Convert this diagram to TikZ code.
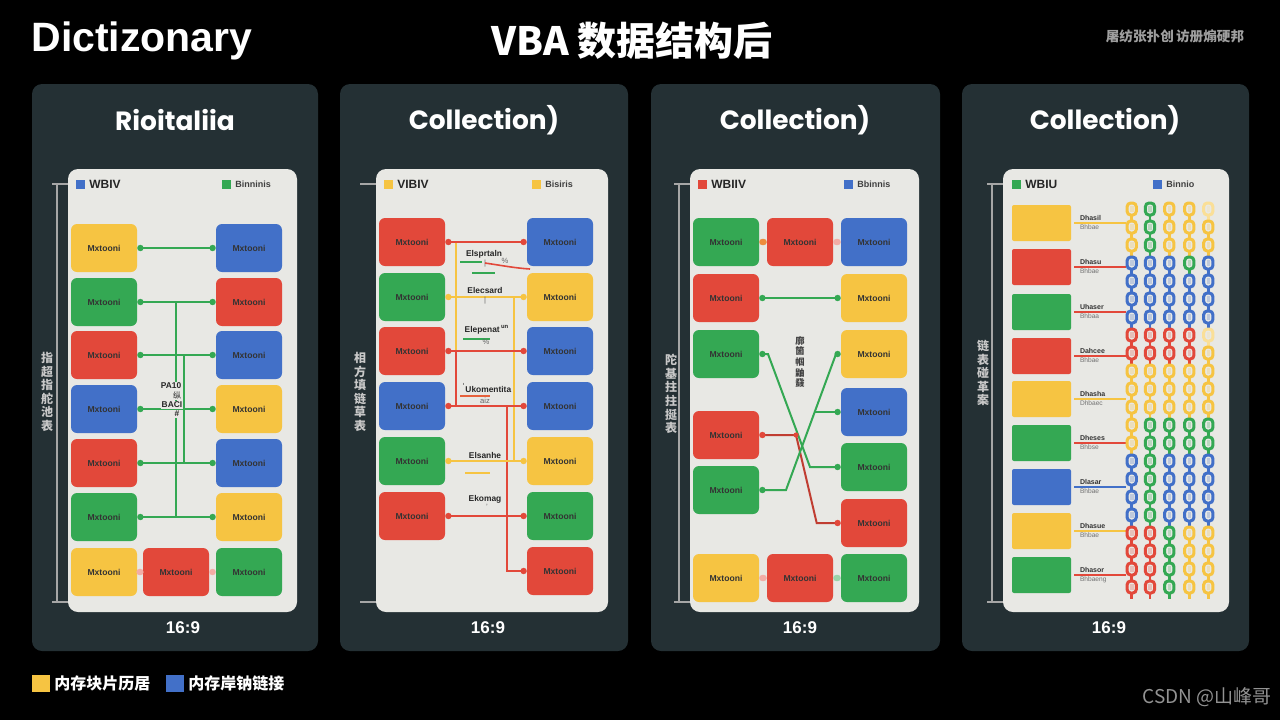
\documentclass[tikz,border=0pt]{standalone}
\usepackage{fontspec}
\setmainfont{Liberation Sans}
\newfontfamily\cjk{Noto Sans CJK SC}
\newfontfamily\ttl{Poppins}
\definecolor{cY}{RGB}{246,196,66}
\definecolor{cG}{RGB}{52,168,83}
\definecolor{cR}{RGB}{226,72,58}
\definecolor{cB}{RGB}{66,112,200}
\colorlet{cYf}{cY!55!white}
\definecolor{panelc}{RGB}{36,48,52}
\definecolor{cardc}{RGB}{232,232,228}
\definecolor{sidec}{RGB}{200,200,200}
\newcommand\cn[3]{%
  \draw[#1,line width=1pt] ([xshift=1.5pt]#2.east) -- ([xshift=-1.5pt]#3.west);
  \fill[#1] ([xshift=1.5pt]#2.east) circle (1.6pt) ([xshift=-1.5pt]#3.west) circle (1.6pt);}
\newcommand\chaincol[2]{%
  \foreach \c [count=\i from 0] in {#2} {%
    \pgfmathsetmacro\yy{209+18*\i}
    \draw[\c, line width=1.4pt] (#1,\yy+6) -- (#1,\yy+12);
    \draw[\c, line width=1.5pt, fill=cardc, rounded corners=1.8pt] (#1-4.6,\yy-6) rectangle (#1+4.6,\yy+6);
    \fill[\c, opacity=0.25] (#1-1.8,\yy-2.6) rectangle (#1+1.8,\yy+2.6);
  }}
\tikzset{
  bx/.style={rounded corners=3pt, minimum width=33pt, minimum height=24pt, inner sep=0pt,
    font=\fontsize{4.3}{5}\selectfont\bfseries, text=black!80},
  sq/.style={minimum width=29.5pt, minimum height=18pt, inner sep=0pt, rounded corners=1pt},
  ptitle/.style={font=\ttl\bfseries\fontsize{13.2}{15}\selectfont, text=white},
  ratio/.style={font=\bfseries\fontsize{8.5}{10}\selectfont, text=white},
  side/.style={font=\cjk\bfseries\fontsize{6}{6.8}\selectfont, text=sidec, align=center, inner sep=0pt},
  legbig/.style={font=\bfseries\fontsize{6}{7}\selectfont, text=black!85, anchor=west, inner sep=0pt},
  legsm/.style={font=\bfseries\fontsize{4.5}{5}\selectfont, text=black!75, anchor=west, inner sep=0pt},
  lbl/.style={font=\bfseries\fontsize{4.2}{5}\selectfont, text=black!85, inner sep=0.5pt},
  lbl2/.style={font=\fontsize{3.8}{4.5}\selectfont, text=black!60, inner sep=0.3pt},
  lblc/.style={font=\bfseries\fontsize{3.5}{4}\selectfont, text=black!80, inner sep=0.3pt, anchor=west},
  lblc2/.style={font=\fontsize{3.3}{4}\selectfont, text=black!55, inner sep=0.3pt, anchor=west},
  brk/.style={draw=gray!70, line width=0.7pt},
}
\begin{document}
\begin{tikzpicture}[x=0.5pt,y=-0.5pt]
\useasboundingbox (0,0) rectangle (1280,720);
\fill[black] (0,0) rectangle (1280,720);

% ---- header
\node[font=\bfseries\fontsize{20.5}{24}\selectfont, text=white, anchor=west, inner sep=0pt] (hdr) at (31,41) {Dictizonary};
\node[font=\cjk\bfseries\fontsize{19.5}{24}\selectfont, text=white, inner sep=0pt] (main) at (632,41) {VBA 数据结构后};
\node[font=\cjk\bfseries\fontsize{6.8}{8}\selectfont, text=gray!75, inner sep=0pt] (tr) at (1175,36) {屠纺张扑创\,访册煽硬邦};

% ---- panels and cards
\foreach \a/\b/\c/\d in {32/318/68/297, 340/628/376/608, 651/940/690/919, 962/1249/1003/1229}{
  \fill[panelc, rounded corners=5pt] (\a,84) rectangle (\b,651);
  \fill[cardc, rounded corners=5pt] (\c,169) rectangle (\d,612);
}
\node[ptitle] (t1) at (175,120) {Rioitaliia};
\node[ptitle] (t2) at (484,120) {Collection)};
\node[ptitle] (t3) at (795,120) {Collection)};
\node[ptitle] (t4) at (1105,120) {Collection)};
\node[ratio] (r1) at (183,628) {16:9};
\node[ratio] (r2) at (488,628) {16:9};
\node[ratio] (r3) at (800,628) {16:9};
\node[ratio] (r4) at (1109,628) {16:9};

% ---- side brackets
\draw[brk] (52,184) -- (68,184) (52,602) -- (68,602) (57,184) -- (57,602);
\draw[brk] (360,184) -- (376,184) (360,602) -- (376,602);
\draw[brk] (674,184) -- (690,184) (674,602) -- (690,602) (679,184) -- (679,602);
\draw[brk] (987,184) -- (1003,184) (987,602) -- (1003,602) (992,184) -- (992,602);
\node[side, fill=panelc, inner ysep=1pt] (s1) at (47,392) {指\\超\\指\\舵\\池\\表};
\node[side] (s2) at (360,392) {相\\方\\填\\链\\草\\表};
\node[side, fill=panelc, inner ysep=1pt] (s3) at (671,394) {陀\\基\\拄\\拄\\挻\\表};
\node[side, fill=panelc, inner ysep=1pt] (s4) at (983,373) {链\\表\\碰\\革\\案};

% ---- card legends
\fill[cB] (76,180) rectangle (85,189);  \node[legbig] (k1a) at (89,184) {WBIV};
\fill[cG] (222,180) rectangle (231,189); \node[legsm] (k1b) at (235,184) {Binninis};
\fill[cY] (384,180) rectangle (393,189); \node[legbig] (k2a) at (397,184) {VIBIV};
\fill[cY] (532,180) rectangle (541,189); \node[legsm] (k2b) at (545,184) {Bisiris};
\fill[cR] (698,180) rectangle (707,189); \node[legbig] (k3a) at (711,184) {WBIIV};
\fill[cB] (844,180) rectangle (853,189); \node[legsm] (k3b) at (857,184) {Bbinnis};
\fill[cG] (1012,180) rectangle (1021,189); \node[legbig] (k4a) at (1025,184) {WBIU};
\fill[cB] (1153,180) rectangle (1162,189); \node[legsm] (k4b) at (1166,184) {Binnio};

% ================= panel 1
\foreach \c/\y [count=\i] in {cY/248, cG/302, cR/355, cB/409, cR/463, cG/517, cY/572}
  \node[bx, fill=\c] (p1L\i) at (104,\y) {Mxtooni};
\foreach \c/\y [count=\i] in {cB/248, cR/302, cB/355, cY/409, cB/463, cY/517, cG/572}
  \node[bx, fill=\c] (p1R\i) at (249,\y) {Mxtooni};
\node[bx, fill=cR] (p1M7) at (176,572) {Mxtooni};
\coordinate (v1a) at (175.7,0);
\coordinate (v1b) at (184,0);
\draw[cG, line width=1pt] (p1L2 -| v1a) -- (p1L6 -| v1a);
\draw[cG, line width=1pt] (p1L3 -| v1b) -- (p1L5 -| v1b);
\foreach \i in {1,...,6} { \cn{cG}{p1L\i}{p1R\i} }
\cn{cR!45}{p1L7}{p1M7}
\cn{cR!45}{p1M7}{p1R7}
\node[lbl, fill=cardc] (m1a) at (171,386) {PA10};
\node[lbl, fill=cardc, font=\cjk\fontsize{4}{5}\selectfont] (m1b) at (177,395) {纵};
\node[lbl, fill=cardc] (m1c) at (172,405) {BACI};
\node[lbl, fill=cardc] (m1d) at (177,414) {\#};

% ================= panel 2
\foreach \c/\y [count=\i] in {cR/242, cG/297, cR/351, cB/406, cG/461, cR/516}
  \node[bx, fill=\c] (p2L\i) at (412,\y) {Mxtooni};
\foreach \c/\y [count=\i] in {cB/242, cY/297, cB/351, cB/406, cY/461, cG/516, cR/571}
  \node[bx, fill=\c] (p2R\i) at (560,\y) {Mxtooni};
\coordinate (v2a) at (456,0);
\coordinate (v2b) at (514,0);
\coordinate (v2c) at (507,0);
\draw[cY, line width=1pt] (p2L1 -| v2a) -- (p2L3 -| v2a);
\draw[cR, line width=1pt] (p2L3 -| v2a) -- (p2L4 -| v2a);
\draw[cY, line width=1pt] (p2L2 -| v2b) -- (p2L5 -| v2b);
\draw[cR, line width=1pt] (p2L4 -| v2c) -- (p2R7 -| v2c) -- ([xshift=-1.5pt]p2R7.west);
\fill[cR] ([xshift=-1.5pt]p2R7.west) circle (1.6pt);
\cn{cR}{p2L1}{p2R1}
\cn{cY}{p2L2}{p2R2}
\cn{cR}{p2L3}{p2R3}
\cn{cR}{p2L4}{p2R4}
\cn{cY}{p2L5}{p2R5}
\cn{cR}{p2L6}{p2R6}
\node[lbl] (n21) at (484,254) {Elsprtaln};
\node[lbl2] (n21b) at (505,261) {\%};
\node[lbl2] (n21c) at (485,264) {|};
\draw[cG, line width=0.7pt] (460,262) -- (482,262);
\draw[cR, line width=0.8pt] (485,263) .. controls (505,266) and (515,268) .. (530,269);
\draw[cG, line width=0.7pt] (472,273) -- (495,273);
\node[lbl] (n22) at (485,290) {Elecsard};
\node[lbl2] (n22b) at (485,301) {|};
\node[lbl] (n23) at (487,330) {Elepenat\,\textsuperscript{un}};
\draw[cG, line width=0.7pt] (463,339) -- (490,339);
\node[lbl2] (n23b) at (486,342) {\%};
\node[lbl] (n24) at (487,388) {\textsuperscript{`}Ukomentita};
\draw[cR!80!cY, line width=0.7pt] (460,396) -- (490,396);
\node[lbl2] (n24b) at (485,401) {aiz};
\node[lbl] (n25) at (485,455) {Elsanhe};
\draw[cY, line width=0.8pt] (465,473) -- (490,473);
\node[lbl] (n26) at (485,499) {Ekomag};
\node[lbl2] (n26b) at (487,507) {'};

% ================= panel 3
\foreach \c/\y [count=\i] in {cG/242, cR/298, cG/354, cR/435, cG/490, cY/578}
  \node[bx, fill=\c] (p3L\i) at (726,\y) {Mxtooni};
\foreach \c/\y [count=\i] in {cB/242, cY/298, cY/354, cB/412, cG/467, cR/523, cG/578}
  \node[bx, fill=\c] (p3R\i) at (874,\y) {Mxtooni};
\node[bx, fill=cR] (p3M1) at (800,242) {Mxtooni};
\node[bx, fill=cR] (p3M7) at (800,578) {Mxtooni};
\cn{cR!45!cY}{p3L1}{p3M1}
\cn{cR!45}{p3M1}{p3R1}
\cn{cG}{p3L2}{p3R2}
\cn{cR!45}{p3L6}{p3M7}
\cn{cG!50}{p3M7}{p3R7}
% crossing links
\draw[cR!85!black, line width=1pt] ([xshift=1.5pt]p3L4.east) -- (796,435) -- (816.7,523) -- ([xshift=-1.5pt]p3R6.west);
\draw[cG, line width=1pt] ([xshift=1.5pt]p3L3.east) -- (768,354) -- (810,467) -- ([xshift=-1.5pt]p3R5.west);
\draw[cG, line width=1pt] ([xshift=1.5pt]p3L5.east) -- (786,490) -- (836,354) -- ([xshift=-1.5pt]p3R3.west);
\draw[cG, line width=1pt] (814.8,412) -- ([xshift=-1.5pt]p3R4.west);
\fill[cR] ([xshift=1.5pt]p3L4.east) circle (1.6pt) ([xshift=-1.5pt]p3R6.west) circle (1.6pt) (796,435) circle (1.3pt);
\fill[cG] ([xshift=1.5pt]p3L3.east) circle (1.6pt) ([xshift=-1.5pt]p3R5.west) circle (1.6pt)
  ([xshift=1.5pt]p3L5.east) circle (1.6pt) ([xshift=-1.5pt]p3R3.west) circle (1.6pt)
  ([xshift=-1.5pt]p3R4.west) circle (1.6pt);
\node[font=\cjk\bfseries\fontsize{4.6}{5.3}\selectfont, text=black!75, align=center, inner sep=0pt] (m3) at (800,362) {廓\\箇\\帼\\鼬\\鼗};

% ================= panel 4
\foreach \c/\y [count=\i] in {cY/223, cR/267, cG/312, cR/356, cY/399, cG/443, cB/487, cY/531, cG/575}
  \node[sq, fill=\c] (p4L\i) at (1041.5,\y) {};
\foreach \c/\y/\ta/\tb [count=\i] in {cY/223/Dhasil/Bhbae, cR/267/Dhasu/Bhbae, cR/312/Uhaser/Bhbaa, cR/356/Dahcee/Bhbae, cY/399/Dhasha/Dhbaec, cR/443/Dheses/Bhbse, cB/487/Dlasar/Bhbae, cY/531/Dhasue/Bhbae, cR/575/Dhasor/Bhbaeng}{
  \coordinate (e\i) at (1126,\y);
  \draw[\c, line width=0.8pt] ([xshift=1.5pt]p4L\i.east) -- (e\i);
  \node[lblc] (la\i) at (1079,\y-5.5) {\ta};
  \node[lblc2] (lb\i) at (1079,\y+4.5) {\tb};
}
\chaincol{1131.7}{cY,cY,cY,cB,cB,cB,cB,cR,cR,cY,cY,cY,cY,cY,cB,cB,cB,cB,cR,cR,cR,cR}
\chaincol{1150}{cG,cG,cG,cB,cB,cB,cB,cR,cR,cY,cY,cY,cG,cG,cG,cG,cG,cG,cR,cR,cR,cR}
\chaincol{1169.3}{cY,cY,cY,cB,cB,cB,cB,cR,cR,cY,cY,cY,cG,cG,cB,cB,cB,cB,cG,cG,cG,cG}
\chaincol{1189.3}{cY,cY,cY,cG,cB,cB,cB,cR,cR,cY,cY,cY,cG,cG,cB,cB,cB,cB,cY,cY,cY,cY}
\chaincol{1208.3}{cYf,cY,cY,cB,cB,cB,cB,cYf,cY,cY,cY,cY,cG,cG,cB,cB,cB,cB,cY,cY,cY,cY}

% ---- bottom legend
\fill[cY] (32,675) rectangle (50,692);
\node[font=\cjk\bfseries\fontsize{8}{10}\selectfont, text=white, anchor=west, inner sep=0pt] (bl1) at (54,683.5) {内存块片历居};
\fill[cB] (166,675) rectangle (184,692);
\node[font=\cjk\bfseries\fontsize{8}{10}\selectfont, text=white, anchor=west, inner sep=0pt] (bl2) at (188,683.5) {内存岸钠链接};
\node[font=\cjk\fontsize{9.5}{11}\selectfont, text=gray!85, anchor=east, inner sep=0pt] (wm) at (1272,697) {CSDN @山峰哥};
\end{tikzpicture}
\end{document}
